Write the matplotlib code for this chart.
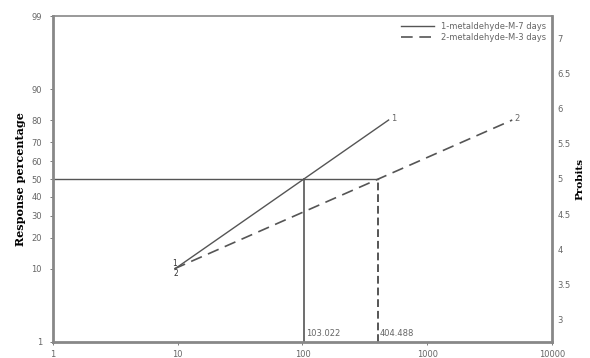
import matplotlib
matplotlib.use("Agg")
import matplotlib.pyplot as plt
from statistics import NormalDist

def probit(p):
    return 5 + NormalDist().inv_cdf(p / 100.0)

# data
doses1 = [9.5, 490]
resp1 = [10, 80]
doses2 = [9.4, 4800]
resp2 = [10, 80]
lc50 = [103.022, 404.488]
lc50_labels = ["103.022", "404.488"]
left_ticks = [1, 10, 20, 30, 40, 50, 60, 70, 80, 90, 99]
right_ticks = [3, 3.5, 4, 4.5, 5, 5.5, 6, 6.5, 7]
x_ticks = [1, 10, 100, 1000, 10000]
names = ["1-metaldehyde-M-7 days", "2-metaldehyde-M-3 days"]

gray = "#555555"
tgray = "#666666"
fig = plt.figure(figsize=(5.9, 3.58), dpi=100)
ax = fig.add_axes([0.0898, 0.0447, 0.8458, 0.9106])
ax.set_xscale("log")
ax.set_xlim(1, 10000)
ylo, yhi = probit(1), probit(99)
ax.set_ylim(ylo, yhi)

ax.plot(doses1, [probit(v) for v in resp1], color=gray, lw=1.0, label=names[0])
ax.plot(doses2, [probit(v) for v in resp2], color=gray, lw=1.2, ls=(0, (7, 4)), label=names[1])

# LC50 guide lines
ax.plot([1, lc50[1]], [5, 5], color=gray, lw=1.0)
ax.plot([lc50[0], lc50[0]], [ylo, 5], color=gray, lw=1.2)
ax.plot([lc50[1], lc50[1]], [ylo, 5], color=gray, lw=1.4, ls=(0, (4, 2)))
for v, s in zip(lc50, lc50_labels):
    ax.text(v * 1.03, ylo + 0.06, s, fontsize=6, color=tgray, ha="left", va="bottom")

# point labels
ax.text(doses1[0], probit(resp1[0]) + 0.01, "1", fontsize=5.5, color="#333333", ha="center", va="bottom")
ax.text(doses2[0] * 1.02, probit(resp2[0]) - 0.01, "2", fontsize=5.5, color="#333333", ha="center", va="top")
ax.text(doses1[1] * 1.05, probit(resp1[1]) + 0.02, "1", fontsize=6, color=tgray, ha="left", va="center")
ax.text(doses2[1] * 1.05, probit(resp2[1]) + 0.02, "2", fontsize=6, color=tgray, ha="left", va="center")

ax.set_xticks(x_ticks)
ax.set_xticklabels([str(t) for t in x_ticks])
ax.minorticks_off()
ax.set_yticks([probit(v) for v in left_ticks])
ax.set_yticklabels([str(v) for v in left_ticks])
ax.tick_params(axis="both", labelsize=6, labelcolor=tgray, color=tgray, length=2, width=0.6)
ax.tick_params(axis="x", pad=4)
ax.tick_params(axis="y", pad=6)

for side in ["left", "bottom", "right"]:
    ax.spines[side].set_linewidth(2.0)
    ax.spines[side].set_color("#888888")
ax.spines["top"].set_linewidth(1.2)
ax.spines["top"].set_color("#888888")

ax.set_ylabel("Response percentage", fontfamily="DejaVu Serif", fontweight="bold", fontsize=8, labelpad=4)

ax2 = ax.twinx()
ax2.set_ylim(ylo, yhi)
ax2.set_yticks(right_ticks)
ax2.set_yticklabels([("%g" % t) for t in right_ticks])
ax2.tick_params(axis="y", labelsize=6, labelcolor=tgray, length=0, pad=4)
for s in ax2.spines.values():
    s.set_visible(False)
ax2.set_ylabel("Probits", fontfamily="DejaVu Serif", fontweight="bold", fontsize=7.5, rotation=90, labelpad=3)

leg = ax.legend(loc="upper right", frameon=False, fontsize=6, handlelength=4, labelcolor=tgray,
                borderaxespad=0.3, labelspacing=0.3)

fig.savefig("out.png", dpi=100)
